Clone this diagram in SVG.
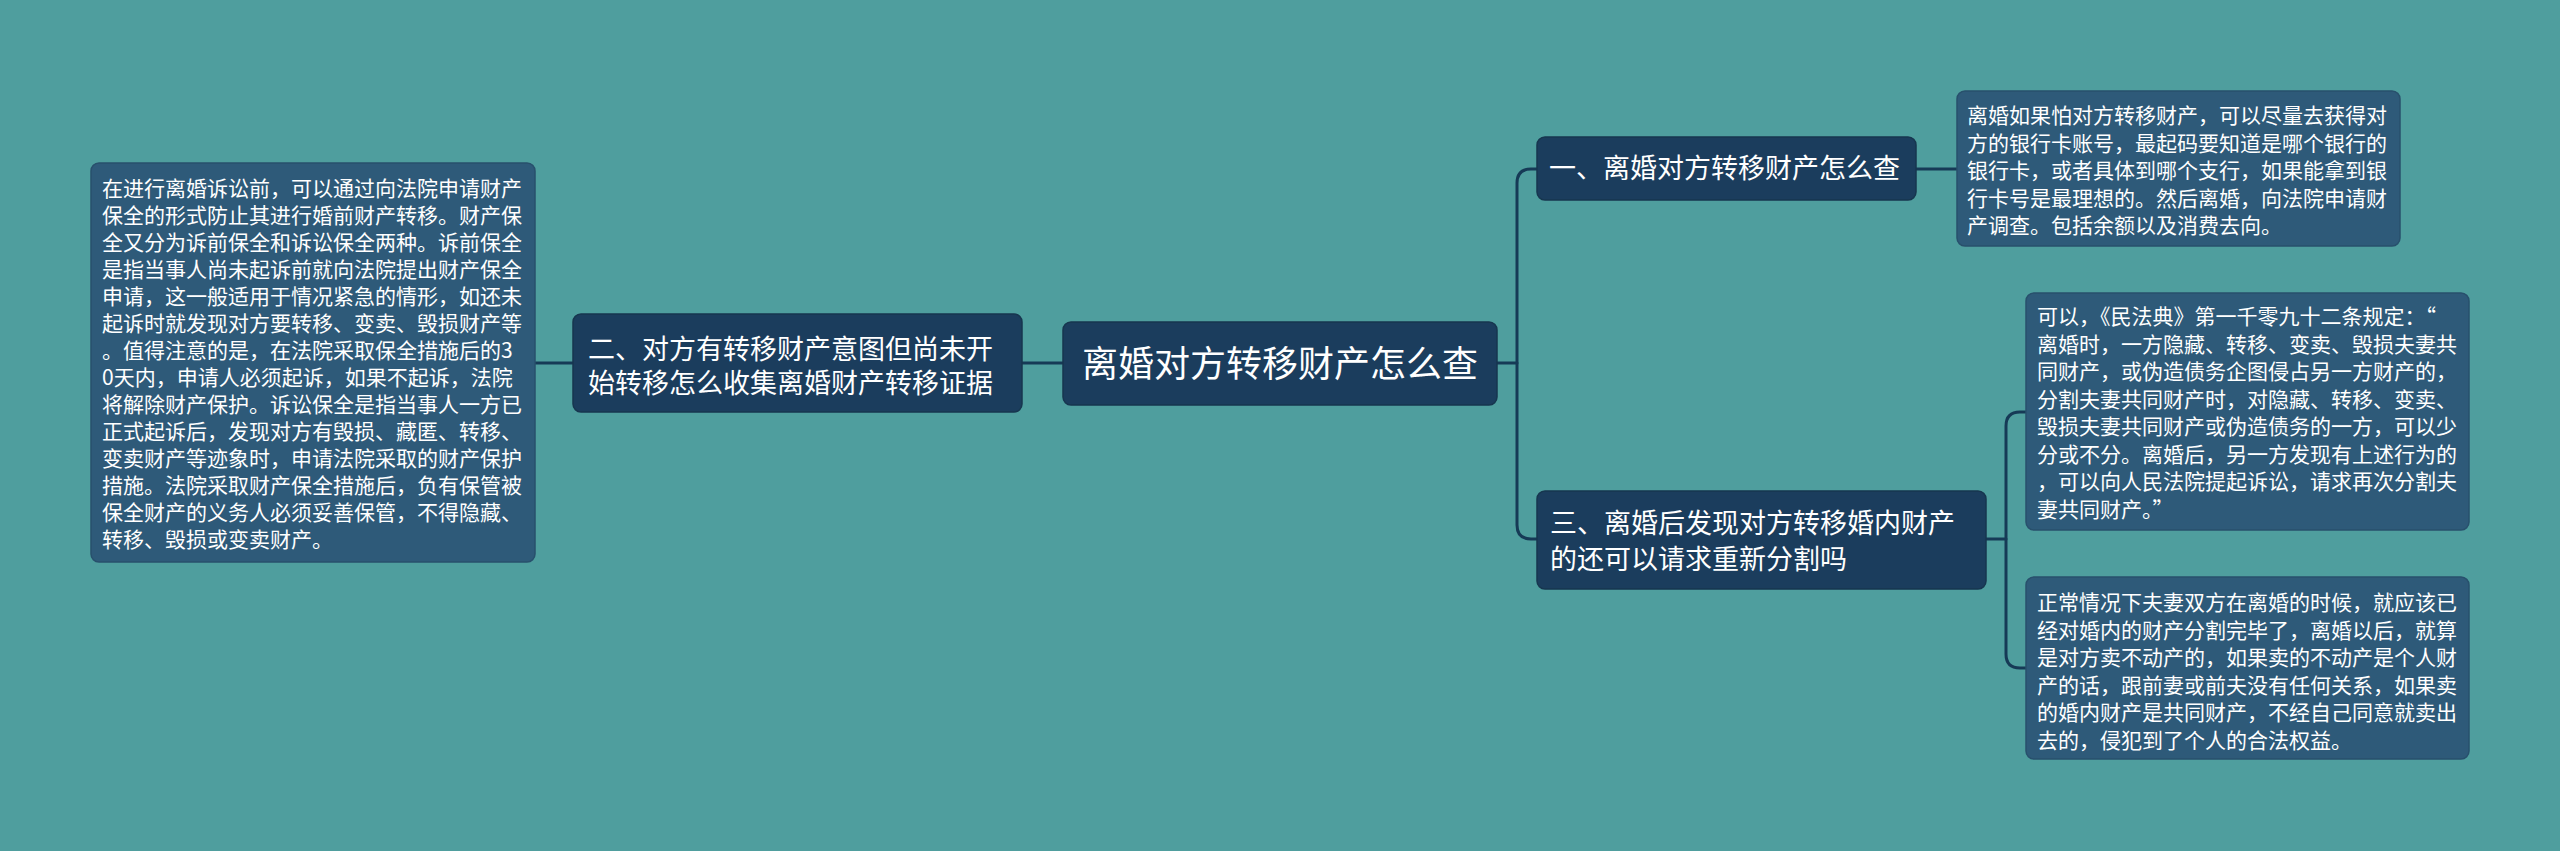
<svg xmlns="http://www.w3.org/2000/svg" width="2560" height="851" viewBox="0 0 2560 851">
<style>
.bg{fill:#4f9e9e}
.node rect{fill:#1b3d5d;stroke:#17364f;stroke-width:1.5}
.box rect{fill:#2e5a79;stroke:#28506c;stroke-width:1.5}
text{font-family:"Noto Sans CJK SC","Noto Sans",sans-serif;fill:#ffffff}
.node text{font-size:27px}
#root text{font-size:36px}
.box text{font-size:21px}
.conn path{fill:none;stroke:#163a56;stroke-width:3;stroke-linecap:round}
</style>
<rect class="bg" x="0" y="0" width="2560" height="851"/>
<g class="conn">
<path d="M535,363 H573"/>
<path d="M1022,363 H1063"/>
<path d="M1497,363 H1517"/>
<path d="M1537,169 H1531 Q1517,169 1517,183 V525 Q1517,539 1531,539 H1537"/>
<path d="M1916,169 H1957"/>
<path d="M1986,539 H2006"/>
<path d="M2026,412 H2020 Q2006,412 2006,426 V654 Q2006,668 2020,668 H2026"/>
</g>
<g id="root" class="node">
<rect x="1063" y="322" width="434" height="83" rx="8"/>
<text x="1280" y="377" text-anchor="middle">离婚对方转移财产怎么查</text>
</g>
<g id="n2" class="node">
<rect x="573" y="314" width="449" height="98" rx="8"/>
<text x="588" y="359">二、对方有转移财产意图但尚未开</text>
<text x="588" y="393">始转移怎么收集离婚财产转移证据</text>
</g>
<g id="n1" class="node">
<rect x="1537" y="137" width="379" height="63" rx="8"/>
<text x="1549" y="178">一、离婚对方转移财产怎么查</text>
</g>
<g id="n3" class="node">
<rect x="1537" y="491" width="449" height="98" rx="8"/>
<text x="1550" y="533">三、离婚后发现对方转移婚内财产</text>
<text x="1550" y="569">的还可以请求重新分割吗</text>
</g>
<g id="b2" class="box">
<rect x="91" y="163" width="444" height="399" rx="8"/>
<text x="102" y="196">在进行离婚诉讼前，可以通过向法院申请财产</text>
<text x="102" y="223">保全的形式防止其进行婚前财产转移。财产保</text>
<text x="102" y="250">全又分为诉前保全和诉讼保全两种。诉前保全</text>
<text x="102" y="277">是指当事人尚未起诉前就向法院提出财产保全</text>
<text x="102" y="304">申请，这一般适用于情况紧急的情形，如还未</text>
<text x="102" y="331">起诉时就发现对方要转移、变卖、毁损财产等</text>
<text x="102" y="358">。值得注意的是，在法院采取保全措施后的3</text>
<text x="102" y="385">0天内，申请人必须起诉，如果不起诉，法院</text>
<text x="102" y="412">将解除财产保护。诉讼保全是指当事人一方已</text>
<text x="102" y="439">正式起诉后，发现对方有毁损、藏匿、转移、</text>
<text x="102" y="466">变卖财产等迹象时，申请法院采取的财产保护</text>
<text x="102" y="493">措施。法院采取财产保全措施后，负有保管被</text>
<text x="102" y="520">保全财产的义务人必须妥善保管，不得隐藏、</text>
<text x="102" y="547">转移、毁损或变卖财产。</text>
</g>
<g id="b1" class="box">
<rect x="1957" y="91" width="443" height="155" rx="8"/>
<text x="1967" y="123">离婚如果怕对方转移财产，可以尽量去获得对</text>
<text x="1967" y="150.5">方的银行卡账号，最起码要知道是哪个银行的</text>
<text x="1967" y="178">银行卡，或者具体到哪个支行，如果能拿到银</text>
<text x="1967" y="205.5">行卡号是最理想的。然后离婚，向法院申请财</text>
<text x="1967" y="233">产调查。包括余额以及消费去向。</text>
</g>
<g id="b3a" class="box">
<rect x="2026" y="293" width="443" height="237" rx="8"/>
<text x="2037" y="324">可以，《民法典》第一千零九十二条规定：“</text>
<text x="2037" y="351.5">离婚时，一方隐藏、转移、变卖、毁损夫妻共</text>
<text x="2037" y="379">同财产，或伪造债务企图侵占另一方财产的，</text>
<text x="2037" y="406.5">分割夫妻共同财产时，对隐藏、转移、变卖、</text>
<text x="2037" y="434">毁损夫妻共同财产或伪造债务的一方，可以少</text>
<text x="2037" y="461.5">分或不分。离婚后，另一方发现有上述行为的</text>
<text x="2037" y="489">，可以向人民法院提起诉讼，请求再次分割夫</text>
<text x="2037" y="516.5">妻共同财产。”</text>
</g>
<g id="b3b" class="box">
<rect x="2026" y="577" width="443" height="182" rx="8"/>
<text x="2037" y="610">正常情况下夫妻双方在离婚的时候，就应该已</text>
<text x="2037" y="637.5">经对婚内的财产分割完毕了，离婚以后，就算</text>
<text x="2037" y="665">是对方卖不动产的，如果卖的不动产是个人财</text>
<text x="2037" y="692.5">产的话，跟前妻或前夫没有任何关系，如果卖</text>
<text x="2037" y="720">的婚内财产是共同财产，不经自己同意就卖出</text>
<text x="2037" y="747.5">去的，侵犯到了个人的合法权益。</text>
</g>
</svg>
